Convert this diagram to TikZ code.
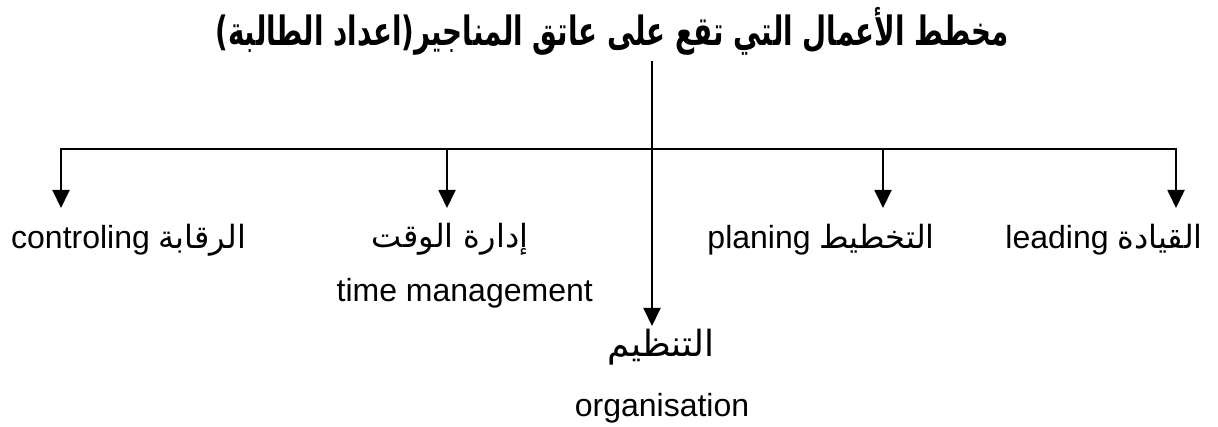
\documentclass[tikz,border=0pt]{standalone}
\usepackage{fontspec}
\setmainfont{Liberation Sans}
\newfontfamily\arabicfont[Script=Arabic]{DejaVu Sans}
\TeXXeTstate=1
\usetikzlibrary{arrows.meta}
\newcommand{\artext}[1]{{\arabicfont\beginR #1\endR}}
\begin{document}
\begin{tikzpicture}[x=1pt,y=-1pt,
  lbl/.style={inner sep=0pt,font=\fontsize{32}{36}\selectfont},
  arr/.style={line width=1.9pt,-{Triangle[length=18pt,width=17pt]}},
  ln/.style={line width=1.6pt,line cap=rect}]
\useasboundingbox (0,0) rectangle (1218,427);
\node[anchor=base, inner sep=0pt, font=\fontsize{36}{40}\selectfont\bfseries] (title) at (612,46)
  {\scalebox{0.77}[1.12]{\artext{مخطط الأعمال التي تقع على عاتق المناجير(اعداد الطالبة)}}};
% coordinates
\coordinate (top) at (652,61);
\coordinate (tip) at (652,326);
\coordinate (hl) at (61,149);
\coordinate (hb) at (447,149);
\coordinate (hp) at (883,149);
\coordinate (hr) at (1176,149);
\coordinate (tl) at (61,208);
\coordinate (tb) at (447,208);
\coordinate (tp) at (883,208);
\coordinate (tr) at (1176,208);
% labels
\node[lbl, anchor=base west] (ctrl) at (11,249) {controling \artext{الرقابة}};
\node[lbl, anchor=base] (timeA) at (450,248) {\artext{إدارة الوقت}};
\node[lbl, anchor=base east] (timeE) at (593,302) {time management};
\node[lbl, anchor=base east] (plan) at (935,249) {planing \artext{التخطيط}};
\node[lbl, anchor=base east] (lead) at (1203,249) {leading \artext{القيادة}};
\node[anchor=base, inner sep=0pt, font=\fontsize{36}{40}\selectfont] (tanz) at (661,357) {\artext{التنظيم}};
\node[lbl, anchor=base] (org) at (662,416) {organisation};
% connectors
\draw[ln] (hl) -- (hr);
\draw[arr] (top) -- (tip);
\draw[arr] (hl) -- (tl);
\draw[arr] (hb) -- (tb);
\draw[arr] (hp) -- (tp);
\draw[arr] (hr) -- (tr);
\end{tikzpicture}
\end{document}
